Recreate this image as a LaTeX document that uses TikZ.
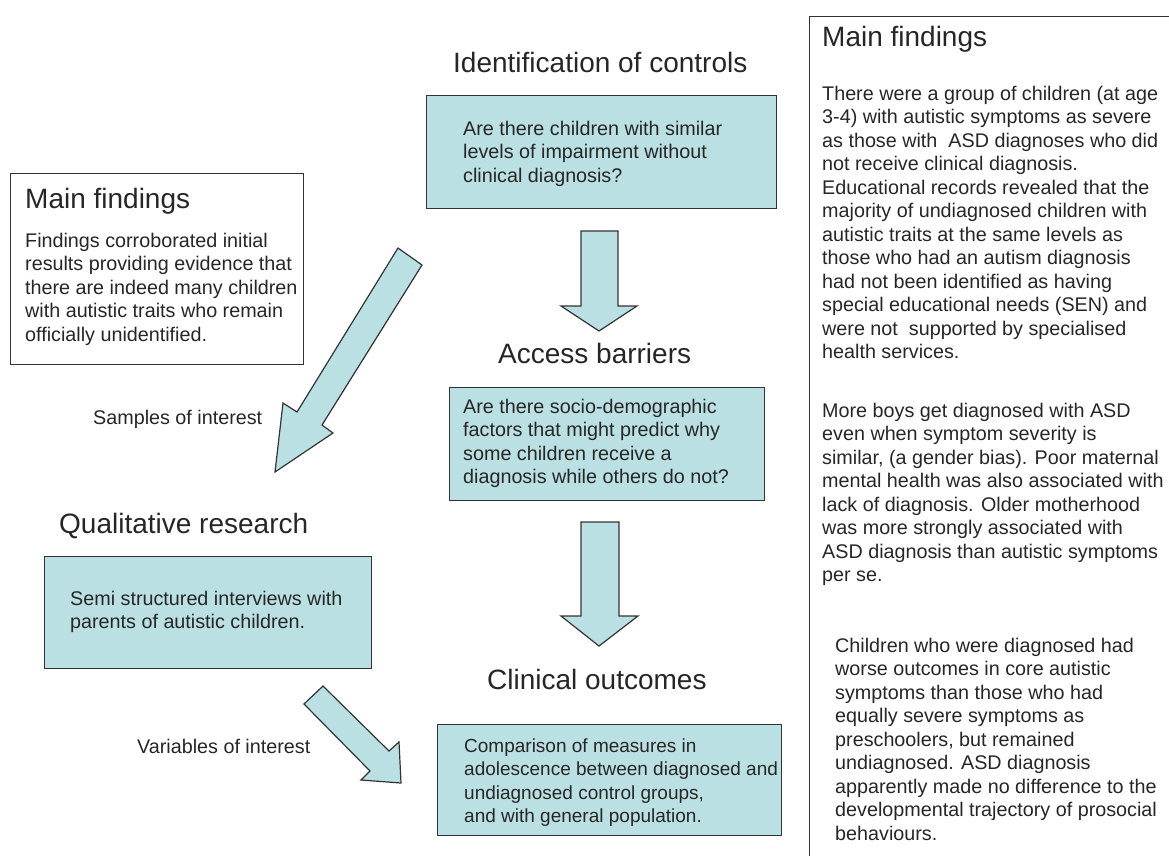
\documentclass[tikz,border=0pt]{standalone}
\usepackage{fontspec}
\setmainfont{Liberation Sans}
\definecolor{boxfill}{HTML}{BBE0E3}
\definecolor{ink}{HTML}{262626}
\definecolor{edge}{HTML}{333333}
\newcommand{\txtlines}[1]{\begin{tabular}[t]{@{}l@{}}#1\end{tabular}}
\begin{document}
\begin{tikzpicture}[x=1pt,y=-1pt,
  panel/.style={draw=edge, line width=1.3pt, anchor=north west, inner sep=0pt},
  qbox/.style={panel, fill=boxfill},
  heading/.style={anchor=base west, inner sep=0pt, text=ink, font=\fontsize{28}{33}\selectfont},
  body/.style={anchor=base west, inner sep=0pt, text=ink, font=\fontsize{19.75}{23.5}\selectfont},
  smallbody/.style={body, font=\fontsize{19}{23.5}\selectfont},
  bigarrow/.style={draw=edge, line width=1.2pt, fill=boxfill, line join=miter}]
\useasboundingbox (0,0) rectangle (1169,855);

% right findings panel (runs off the page on the right and bottom)
\node[panel, minimum width=380pt, minimum height=880pt] (rpanel) at (809,16) {};
\node[heading] (rhead) at (822,46) {Main findings};
\node[body] (rp1) at (822,100) {\txtlines{There were a group of children (at age\\
3-4) with autistic symptoms as severe\\
as those with\ \ ASD diagnoses who did\\
not receive clinical diagnosis.\\
Educational records revealed that the\\
majority of undiagnosed children with\\
autistic traits at the same levels as\\
those who had an autism diagnosis\\
had not been identified as having\\
special educational needs (SEN) and\\
were not\ \ supported by specialised\\
health services.}};
\node[body] (rp2) at (822,417) {\txtlines{More boys get diagnosed with ASD\\
even when symptom severity is\\
similar, (a gender bias). Poor maternal\\
mental health was also associated with\\
lack of diagnosis. Older motherhood\\
was more strongly associated with\\
ASD diagnosis than autistic symptoms\\
per se.}};
\node[body] (rp3) at (835,652) {\txtlines{Children who were diagnosed had\\
worse outcomes in core autistic\\
symptoms than those who had\\
equally severe symptoms as\\
preschoolers, but remained\\
undiagnosed. ASD diagnosis\\
apparently made no difference to the\\
developmental trajectory of prosocial\\
behaviours.}};

% identification of controls
\node[heading] (h1) at (453,72) {Identification of controls};
\node[qbox, minimum width=350pt, minimum height=113pt] (q1) at (426,95) {};
\node[body] (t1) at (463,135) {\txtlines{Are there children with similar\\
levels of impairment without\\
clinical diagnosis?}};

% access barriers
\node[heading] (h2) at (498,363) {Access barriers};
\node[qbox, minimum width=315pt, minimum height=113pt] (q2) at (449,387) {};
\node[body] (t2) at (463,413) {\txtlines{Are there socio-demographic\\
factors that might predict why\\
some children receive a\\
diagnosis while others do not?}};

% clinical outcomes
\node[heading] (h3) at (487,689) {Clinical outcomes};
\node[qbox, minimum width=344pt, minimum height=111pt] (q3) at (437,724) {};
\node[smallbody] (t3) at (464,752) {\txtlines{Comparison of measures in\\
adolescence between diagnosed and\\
undiagnosed control groups,\\
and with general population.}};

% qualitative research
\node[heading] (h4) at (59,533) {Qualitative research};
\node[qbox, minimum width=327pt, minimum height=112pt] (q4) at (44,556) {};
\node[body] (t4) at (70,605) {\txtlines{Semi structured interviews with\\
parents of autistic children.}};

% left findings
\node[panel, minimum width=293pt, minimum height=191pt] (lpanel) at (10,173) {};
\node[heading] (lhead) at (25,208) {Main findings};
\node[body] (lp) at (25,247) {\txtlines{Findings corroborated initial\\
results providing evidence that\\
there are indeed many children\\
with autistic traits who remain\\
officially unidentified.}};

% labels
\node[body] (lab1) at (93,424) {Samples of interest};
\node[body] (lab2) at (137,753) {Variables of interest};

% block arrows
\draw[bigarrow] (581,231) -- (618,231) -- (618,306) -- (637,306) -- (599,331)
  -- (561,306) -- (581,306) -- cycle;
\draw[bigarrow] (581,522) -- (619,522) -- (619,616) -- (638,616) -- (599,646)
  -- (561,616) -- (581,616) -- cycle;
\draw[bigarrow] (398,248) -- (422,265) -- (322,425) -- (333,433) -- (275,472)
  -- (283,403) -- (297,412) -- cycle;
\draw[bigarrow] (323,686) -- (389,751) -- (399,742) -- (401,783)
  -- (361,780) -- (370,771) -- (304,704) -- cycle;
\end{tikzpicture}
\end{document}
